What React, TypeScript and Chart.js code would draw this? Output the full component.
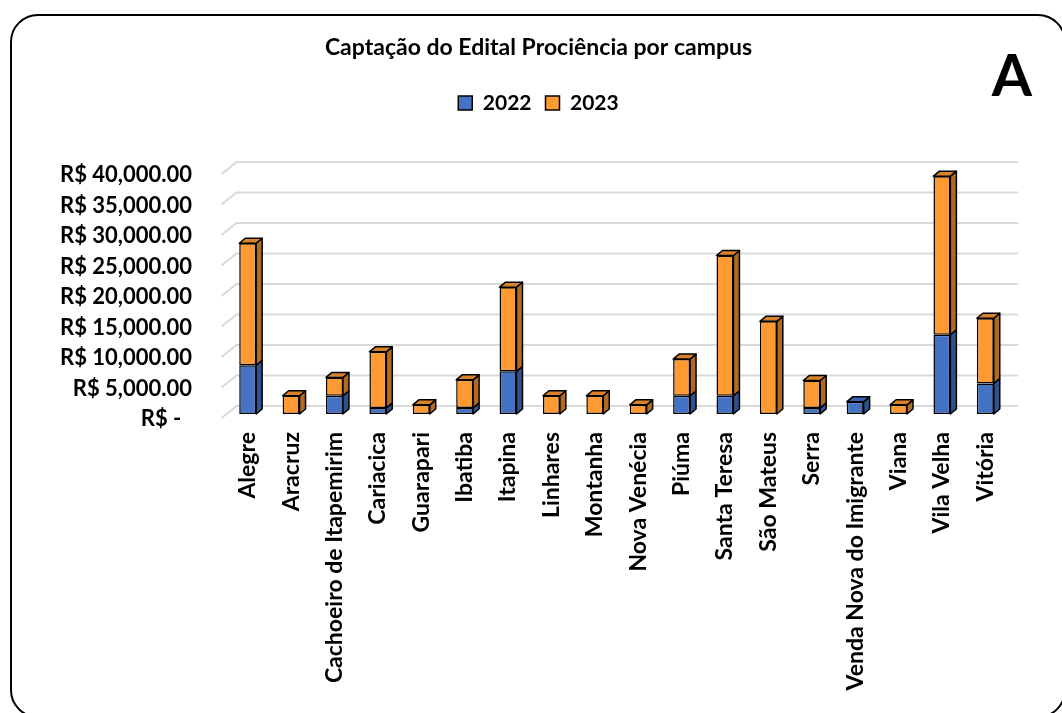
import React, { useEffect, useRef } from "react";
import { Chart, registerables } from "chart.js";

Chart.register(...registerables);

const categories = [
  "Alegre",
  "Aracruz",
  "Cachoeiro de Itapemirim",
  "Cariacica",
  "Guarapari",
  "Ibatiba",
  "Itapina",
  "Linhares",
  "Montanha",
  "Nova Venécia",
  "Piúma",
  "Santa Teresa",
  "São Mateus",
  "Serra",
  "Venda Nova do Imigrante",
  "Viana",
  "Vila Velha",
  "Vitória",
];

const seriesLabels = ["2022", "2023"];
const values2022 = [8000, 0, 3000, 1000, 0, 1000, 7000, 0, 0, 0, 3000, 3000, 0, 1000, 2000, 0, 13000, 5000];
const values2023 = [20000, 3000, 3000, 9200, 1500, 4600, 13800, 3000, 3000, 1500, 6000, 23000, 15200, 4500, 0, 1500, 26000, 10700];

const yTickValues = [0, 5000, 10000, 15000, 20000, 25000, 30000, 35000, 40000];
const yTickLabels = [
  "R$ -  ",
  "R$ 5,000.00",
  "R$ 10,000.00",
  "R$ 15,000.00",
  "R$ 20,000.00",
  "R$ 25,000.00",
  "R$ 30,000.00",
  "R$ 35,000.00",
  "R$ 40,000.00",
];

const chartTitle = "Captação do Edital Prociência por campus";
const panelLetter = "A";

const FONT = "Lato, 'Open Sans', 'DejaVu Sans', sans-serif";

export default function App() {
  const ref = useRef<HTMLCanvasElement>(null);

  useEffect(() => {
    const canvas = ref.current;
    if (!canvas) return;
    Chart.defaults.font.family = FONT;
    Chart.defaults.color = "#000";

    const DX = 6;
    const DY = 5;
    const frontColors = ["#4472C4", "#FF9A33"];
    const sideColors = ["#2F528F", "#B06A24"];
    const topColors = ["#3B63AD", "#D9822B"];

    const grid3d = {
      id: "grid3d",
      beforeDatasetsDraw(chart: any) {
        const { ctx, chartArea, scales } = chart;
        const y = scales.y;
        ctx.save();
        ctx.strokeStyle = "#D9D9D9";
        ctx.lineWidth = 2;
        for (const v of yTickValues) {
          const py = y.getPixelForValue(v);
          ctx.beginPath();
          ctx.moveTo(chartArea.left - 4.5, py + 4);
          ctx.lineTo(chartArea.left + 10.5, py - 8);
          ctx.lineTo(chartArea.right + 11, py - 8);
          ctx.stroke();
        }
        ctx.restore();
      },
    };

    const bar3d = {
      id: "bar3d",
      afterDatasetsDraw(chart: any) {
        const ctx = chart.ctx;
        const metas = chart.data.datasets.map((_: any, i: number) => chart.getDatasetMeta(i));
        ctx.save();
        ctx.strokeStyle = "#000";
        ctx.lineWidth = 1.5;
        ctx.lineJoin = "round";
        for (let i = 0; i < categories.length; i++) {
          let topSeg: any = null;
          metas.forEach((m: any, d: number) => {
            const el = m.data[i];
            if (!el) return;
            const p = el.getProps(["x", "y", "base", "width"], true);
            if (Math.abs(p.base - p.y) < 0.5) return;
            const x0 = p.x - p.width / 2;
            const x1 = p.x + p.width / 2;
            const top = Math.min(p.y, p.base);
            const bot = Math.max(p.y, p.base);
            ctx.fillStyle = sideColors[d];
            ctx.beginPath();
            ctx.moveTo(x1, bot);
            ctx.lineTo(x1 + DX, bot - DY);
            ctx.lineTo(x1 + DX, top - DY);
            ctx.lineTo(x1, top);
            ctx.closePath();
            ctx.fill();
            ctx.stroke();
            topSeg = { x0, x1, top, d };
          });
          if (topSeg) {
            const { x0, x1, top, d } = topSeg;
            ctx.fillStyle = topColors[d];
            ctx.beginPath();
            ctx.moveTo(x0, top);
            ctx.lineTo(x0 + DX, top - DY);
            ctx.lineTo(x1 + DX, top - DY);
            ctx.lineTo(x1, top);
            ctx.closePath();
            ctx.fill();
            ctx.stroke();
          }
        }
        ctx.restore();
      },
    };

    const letter = {
      id: "letter",
      afterDraw(chart: any) {
        const ctx = chart.ctx;
        ctx.save();
        ctx.font = `bold 58px ${FONT}`;
        ctx.fillStyle = "#000";
        ctx.textAlign = "center";
        ctx.textBaseline = "alphabetic";
        ctx.fillText(panelLetter, 1012, 96);
        ctx.restore();
      },
    };

    const chart = new Chart(canvas, {
      type: "bar",
      data: {
        labels: categories,
        datasets: [
          {
            label: seriesLabels[0],
            data: values2022,
            xAxisID: "x",
            yAxisID: "y",
            backgroundColor: frontColors[0],
            borderColor: "#000",
            borderWidth: 1.5,
            borderSkipped: false,
            barPercentage: 0.39,
            categoryPercentage: 1,
          },
          {
            label: seriesLabels[1],
            data: values2023,
            xAxisID: "x",
            yAxisID: "y",
            backgroundColor: frontColors[1],
            borderColor: "#000",
            borderWidth: 1.5,
            borderSkipped: false,
            barPercentage: 0.39,
            categoryPercentage: 1,
          },
        ],
      },
      options: {
        responsive: false,
        animation: false,
        devicePixelRatio: 1,
        layout: { padding: { left: 50, right: 35, top: 0, bottom: 0 } },
        plugins: {
          title: {
            display: true,
            text: chartTitle,
            color: "#000",
            font: { size: 23, weight: "bold", family: FONT },
            padding: { top: 34, bottom: 17 },
          },
          legend: {
            display: true,
            position: "top",
            labels: {
              boxWidth: 14,
              boxHeight: 14,
              padding: 14,
              color: "#000",
              font: { size: 21, weight: "bold", family: FONT },
            },
          },
          tooltip: { enabled: false },
        },
        scales: {
          x: {
            stacked: true,
            grid: { display: false, drawTicks: false },
            border: { display: false },
            ticks: {
              autoSkip: false,
              minRotation: 90,
              maxRotation: 90,
              padding: 18,
              color: "#000",
              font: { size: 23, weight: "bold", family: FONT },
            },
            afterFit: (s: any) => {
              s.height = 299;
            },
          },
          y: {
            stacked: true,
            min: 0,
            max: 40000,
            grid: { display: false, drawTicks: false },
            border: { display: false },
            afterBuildTicks: (s: any) => {
              s.ticks = yTickValues.map((v) => ({ value: v }));
            },
            ticks: {
              padding: 34,
              labelOffset: 5,
              color: "#000",
              font: { size: 22, weight: "bold", family: FONT },
              callback: (value: any) => {
                const idx = yTickValues.indexOf(Number(value));
                return idx >= 0 ? yTickLabels[idx] : "";
              },
            },
            afterFit: (s: any) => {
              s.width = 176;
            },
          },
          spacerTop: {
            type: "category",
            position: "top",
            display: true,
            grid: { display: false, drawTicks: false },
            border: { display: false },
            ticks: { display: false },
            afterFit: (s: any) => {
              s.height = 46.5;
            },
          },
          spacerRight: {
            type: "linear",
            position: "right",
            display: true,
            grid: { display: false, drawTicks: false },
            border: { display: false },
            ticks: { display: false },
            afterFit: (s: any) => {
              s.width = 20;
            },
          },
        },
      } as any,
      plugins: [grid3d, bar3d, letter],
    });

    return () => {
      chart.destroy();
    };
  }, []);

  return (
    <div
      style={{
        position: "absolute",
        left: 0,
        top: 0,
        width: 1062,
        height: 713,
        overflow: "hidden",
        background: "#fff",
      }}
    >
      <div
        style={{
          position: "absolute",
          left: 10,
          top: 14,
          width: 1056,
          height: 704,
          boxSizing: "border-box",
          border: "2px solid #000",
          borderRadius: 28,
        }}
      />
      <canvas
        ref={ref}
        width={1062}
        height={713}
        style={{ position: "absolute", left: 0, top: 0, width: 1062, height: 713 }}
      />
    </div>
  );
}
